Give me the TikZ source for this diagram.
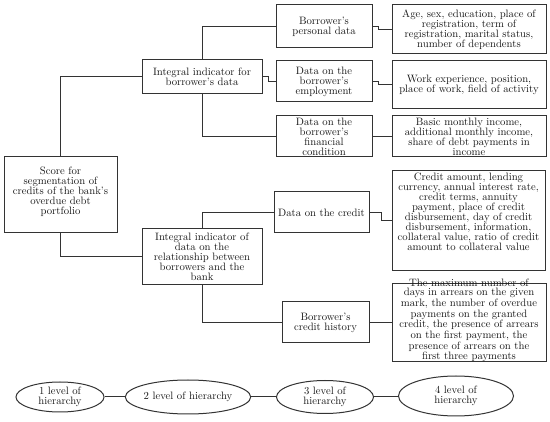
\documentclass[tikz,border=0pt]{standalone}
\usetikzlibrary{shapes.geometric}
\begin{document}
\begin{tikzpicture}[x=1pt,y=-1pt,
  every node/.style={font=\fontsize{10.7}{10}\selectfont, text=black!90, align=center, inner sep=0pt},
  box/.style={draw=black!80, line width=1pt, fill=white, rectangle},
  oval/.style={draw=black!80, line width=1pt, fill=white, ellipse, inner sep=0pt},
  conn/.style={draw=black!80, line width=1pt}]
\useasboundingbox (0,0) rectangle (550,422);
\fill[white] (0,0) rectangle (550,422);

% level 1
\node[box, minimum width=113pt, minimum height=76pt] (root) at (60.5,195) {};
\node (roott) at (60.5,192) {Score for\\segmentation of\\credits of the bank's\\overdue debt\\portfolio};
% level 2
\node[box, minimum width=120pt, minimum height=34pt] (int1) at (202,77) {Integral indicator for\\borrower's data};
\node[box, minimum width=120pt, minimum height=56pt] (int2) at (202,257) {Integral indicator of\\data on the\\relationship between\\borrowers and the\\bank};
% level 3
\node[box, minimum width=96pt, minimum height=43pt] (pers) at (324,26.5) {Borrower's\\personal data};
\node[box, minimum width=96pt, minimum height=41pt] (empl) at (324,81.5) {Data on the\\borrower's\\employment};
\node[box, minimum width=96pt, minimum height=41pt] (fin) at (324,136.5) {Data on the\\borrower's\\financial\\condition};
\node[box, minimum width=95pt, minimum height=41pt] (cred) at (321.5,212.5) {Data on the credit};
\node[box, minimum width=87pt, minimum height=41pt] (hist) at (325.5,322.5) {Borrower's\\credit history};
% level 4
\node[box, minimum width=154pt, minimum height=49pt] (d1) at (469,29.5) {Age, sex, education, place of\\registration, term of\\registration, marital status,\\number of dependents};
\node[box, minimum width=154pt, minimum height=48pt] (d2) at (469,85) {Work experience, position,\\place of work, field of activity};
\node[box, minimum width=154pt, minimum height=41pt] (d3) at (469,136.5) {Basic monthly income,\\additional monthly income,\\share of debt payments in\\income};
\node[box, minimum width=153pt, minimum height=100pt] (d4) at (468.5,221) {};
\node[anchor=north] (d4t) at (468.5,173) {Credit amount, lending\\currency, annual interest rate,\\credit terms, annuity\\payment, place of credit\\disbursement, day of credit\\disbursement, information,\\collateral value, ratio of credit\\amount to collateral value};
\node[box, minimum width=154pt, minimum height=78pt] (d5) at (469,323) {};
\node[font=\fontsize{10.7}{9.3}\selectfont] (d5t) at (469,320.5) {The maximum number of\\days in arrears on the given\\mark, the number of overdue\\payments on the granted\\credit, the presence of arrears\\on the first payment, the\\presence of arrears on the\\first three payments};

% connectors
\draw[conn] (root.north) |- (int1.west);
\draw[conn] (root.south) |- (int2.west);
\draw[conn] (int1.north) |- (pers.west);
\draw[conn] (int1.south) |- (fin.west);
\draw[conn] (int1.east) -- ++(6,0) |- (empl.west);
\draw[conn] (pers.east) -- ++(6,0) |- (d1.west);
\draw[conn] (empl.east) -- ++(6,0) |- (d2.west);
\draw[conn] (fin.east) -- (d3.west);
\draw[conn] (int2.north) |- (cred.west);
\draw[conn] (int2.south) |- (hist.west);
\draw[conn] (cred.east) -- ++(12,0) |- (d4.west);
\draw[conn] (hist.east) -- (d5.west |- hist.east);

% hierarchy legend
\node[oval, minimum width=88pt, minimum height=30pt] (e1) at (60,397) {1 level of\\hierarchy};
\node[oval, minimum width=121pt, minimum height=34pt] (e2) at (188,397) {2 level of hierarchy};
\node[oval, minimum width=97pt, minimum height=33pt] (e3) at (325,397) {3 level of\\hierarchy};
\node[oval, minimum width=115pt, minimum height=40pt] (e4) at (456,396) {4 level of\\hierarchy};
\draw[conn] (e1.east) -- (e2.west);
\draw[conn] (e2.east) -- (e3.west);
\draw[conn] (e3.east) -- (e4.west |- e3.east);
\end{tikzpicture}
\end{document}
